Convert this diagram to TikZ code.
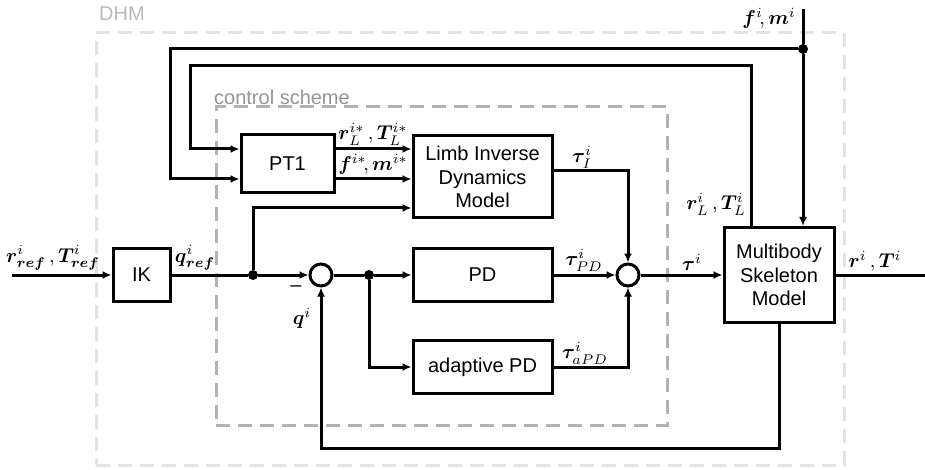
\documentclass[tikz,border=0pt]{standalone}
\usepackage{fontspec}
\setmainfont{Liberation Sans}
\usepackage{amsmath,bm}
\usetikzlibrary{arrows.meta,calc}
\begin{document}
\begin{tikzpicture}[x=0.5pt,y=-0.5pt,
  every node/.style={font=\fontsize{10}{11.75}\selectfont},
  blk/.style={draw,line width=1.5pt,align=center,inner sep=0pt},
  sumc/.style={circle,draw,line width=1.5pt,minimum size=11pt,inner sep=0pt},
  dotc/.style={circle,fill,minimum size=5pt,inner sep=0pt},
  arr/.style={line width=1.5pt,-{Latex[length=4.5pt,width=4pt]}},
  wire/.style={line width=1.5pt},
  lbl/.style={inner sep=0pt},
  dhmframe/.style={draw=gray!22,line width=1.5pt,dash pattern=on 7pt off 4pt,inner sep=0pt},
  csframe/.style={draw=gray!60,line width=1.5pt,dash pattern=on 7pt off 4pt,inner sep=0pt}]
\useasboundingbox (0,0) rectangle (925,470);
% frames
\node[dhmframe,minimum width=374pt,minimum height=216pt] (dhmbox) at (470,249) {};
\node[lbl,text=gray!55] (dhm) at (122,14) {DHM};
\node[csframe,minimum width=225.5pt,minimum height=159pt] (csbox) at (441.5,266) {};
\node[lbl,text=gray!85] (cs) at (282,97) {control scheme};
% blocks
\node[blk,minimum width=46.5pt,minimum height=29pt] (pt1) at (287.5,164) {PT1};
\node[blk,minimum width=69.5pt,minimum height=41pt] (limb) at (482.5,177) {Limb Inverse\\Dynamics\\Model};
\node[blk,minimum width=69.5pt,minimum height=26.5pt] (pd) at (482.5,275) {PD};
\node[blk,minimum width=69.5pt,minimum height=26.5pt] (apd) at (482.5,367) {adaptive PD};
\node[blk,minimum width=28.5pt,minimum height=26.5pt] (ik) at (141.5,275) {IK};
\node[blk,minimum width=55pt,minimum height=47.5pt] (mb) at (779,275) {Multibody\\Skeleton\\Model};
\node[sumc] (s1) at (321,275) {};
\node[sumc] (s2) at (628,275) {};
\node[dotc] (j1) at (253,275) {};
\node[dotc] (j2) at (369,275) {};
\node[dotc] (jf) at (803,49) {};
\coordinate (in) at (12,275);
\coordinate (out) at (925,275);
\coordinate (fmtop) at (803,9);
\coordinate (c1) at (190,66);
\coordinate (c2) at (170,49);
\coordinate (pa) at ($(pt1.east)+(0,-15)$);
\coordinate (pb) at ($(pt1.east)+(0,15)$);
% connectors
\draw[arr] (in) -- (ik);
\draw[wire] (ik) -- (j1);
\draw[arr] (j1) -- (s1);
\draw[arr] (j1) |- ($(limb.west)+(0,31)$);
\draw[wire] (s1) -- (j2);
\draw[arr] (j2) -- (pd);
\draw[arr] (j2) |- (apd);
\draw[arr] (pd) -- (s2);
\draw[arr] (apd) -| (s2);
\draw[arr] ($(limb.east)+(0,-6)$) -| (s2);
\draw[arr] (s2) -- (mb);
\draw[wire] (mb) -- (out);
\draw[arr] (mb.south) -- ++(0,124) -| (s1);
\draw[wire] (fmtop) -- (jf);
\draw[arr] (jf) -- (mb.north -| jf);
\draw[arr] (jf) -- (c2) |- ($(pt1.west)+(0,15)$);
\draw[arr] ($(mb.north)+(-28,0)$) |- (c1) |- ($(pt1.west)+(0,-15)$);
\draw[arr] (pa) -- (pa -| limb.west);
\draw[arr] (pb) -- (pb -| limb.west);
% labels
\node[lbl] (lref) at (53,258) {$\bm{r}^{i}_{\bm{ref}}\,,\bm{T}^{i}_{\bm{ref}}$};
\node[lbl] (lqref) at (195,258) {$\bm{q}^{i}_{\bm{ref}}$};
\node[lbl] (lrl) at (373,134) {$\bm{r}^{i*}_{L}\,,\bm{T}^{i*}_{L}$};
\node[lbl] (lfm) at (373,164) {$\bm{f}^{i*}\!,\bm{m}^{i*}$};
\node[lbl] (ltI) at (582,157) {$\bm{\tau}^{i}_{I}$};
\node[lbl] (lrL) at (716,204) {$\bm{r}^{i}_{L}\,,\bm{T}^{i}_{L}$};
\node[lbl] (lfmi) at (769,18) {$\bm{f}^{i}\!,\bm{m}^{i}$};
\node[lbl] (ltpd) at (584,260) {$\bm{\tau}^{i}_{PD}$};
\node[lbl] (ltapd) at (585,353) {$\bm{\tau}^{i}_{aPD}$};
\node[lbl] (lt) at (692,262) {$\bm{\tau}^{i}$};
\node[lbl] (lrT) at (875,261) {$\bm{r}^{i}\,,\bm{T}^{i}$};
\node[lbl] (lminus) at (296,289) {--};
\node[lbl] (lq) at (302,318) {$\bm{q}^{i}$};
\end{tikzpicture}
\end{document}
